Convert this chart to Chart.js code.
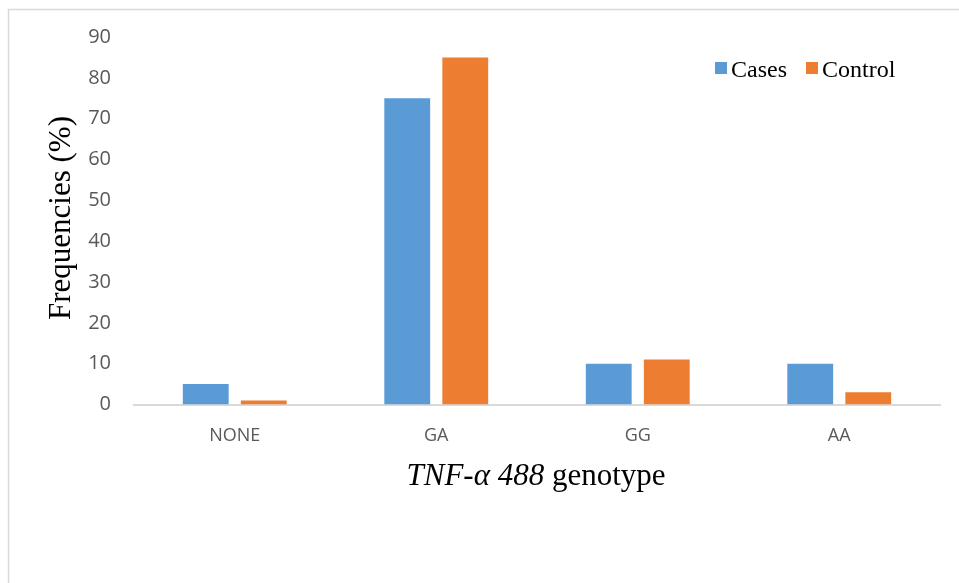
<!DOCTYPE html>
<html>
<head>
<meta charset="utf-8">
<script src="https://cdn.jsdelivr.net/npm/chart.js@4.4.1/dist/chart.umd.min.js"></script>
<style>
  html, body { margin: 0; padding: 0; background: #ffffff; }
  #wrap { width: 959px; height: 583px; position: relative; }
</style>
</head>
<body>
<div id="wrap"><canvas id="chart" width="959" height="583"></canvas></div>
<script>
// Genotype categories and frequencies (%)
const categories = ['NONE', 'GA', 'GG', 'AA'];
const casesValues = [5, 75, 10, 10];
const controlValues = [1, 85, 11, 3];
const seriesNames = ['Cases', 'Control'];
const yMax = 90;
const yStep = 10;

const BLUE = '#5b9bd5';
const ORANGE = '#ed7d31';
const FRAME = '#d9d9d9';
const SERIF = '"Liberation Serif", "Times New Roman", serif';

// Outer frame, axis titles and the in-plot legend
const decorations = {
  id: 'decorations',
  afterDraw(chart) {
    const ctx = chart.ctx;
    ctx.save();

    // frame (top and left edges)
    ctx.strokeStyle = FRAME;
    ctx.lineWidth = 1.5;
    ctx.beginPath();
    ctx.moveTo(8.5, 583);
    ctx.lineTo(8.5, 9.5);
    ctx.lineTo(959, 9.5);
    ctx.stroke();

    // y axis title
    ctx.fillStyle = '#000000';
    ctx.font = '31px ' + SERIF;
    ctx.textAlign = 'center';
    ctx.textBaseline = 'middle';
    ctx.translate(62, 218);
    ctx.rotate(-Math.PI / 2);
    ctx.fillText('Frequencies (%)', 0, 0);
    ctx.setTransform(1, 0, 0, 1, 0, 0);

    // x axis title: italic gene name followed by upright word
    const italicPart = 'TNF-\u03b1 488';
    const plainPart = ' genotype';
    const fItalic = 'italic 31px ' + SERIF;
    const fPlain = '31px ' + SERIF;
    ctx.font = fItalic;
    const w1 = ctx.measureText(italicPart).width;
    ctx.font = fPlain;
    const w2 = ctx.measureText(plainPart).width;
    const x0 = 536 - (w1 + w2) / 2;
    ctx.textAlign = 'left';
    ctx.textBaseline = 'alphabetic';
    ctx.font = fItalic;
    ctx.fillText(italicPart, x0, 485);
    ctx.font = fPlain;
    ctx.fillText(plainPart, x0 + w1, 485);

    // legend
    ctx.font = '24px ' + SERIF;
    ctx.textBaseline = 'alphabetic';
    let lx = 715;
    chart.data.datasets.forEach((ds) => {
      ctx.fillStyle = ds.backgroundColor;
      ctx.fillRect(lx, 62, 12, 12);
      ctx.fillStyle = '#000000';
      ctx.fillText(ds.label, lx + 16, 77);
      lx += 16 + ctx.measureText(ds.label).width + 19;
    });

    ctx.restore();
  }
};

new Chart(document.getElementById('chart'), {
  type: 'bar',
  data: {
    labels: categories,
    datasets: [
      { label: seriesNames[0], data: casesValues, backgroundColor: BLUE },
      { label: seriesNames[1], data: controlValues, backgroundColor: ORANGE }
    ]
  },
  options: {
    responsive: false,
    animation: false,
    devicePixelRatio: 1,
    layout: { padding: { left: 0, right: 19, top: 37, bottom: 0 } },
    datasets: { bar: { categoryPercentage: 0.576, barPercentage: 0.79 } },
    plugins: {
      legend: { display: false },
      tooltip: { enabled: false }
    },
    scales: {
      x: {
        grid: { display: false, drawTicks: false },
        border: { display: true, color: FRAME, width: 2 },
        ticks: {
          color: '#595959',
          font: { family: '"Open Sans", "Noto Sans", sans-serif', size: 18 },
          padding: 21
        },
        afterFit(scale) { scale.height = 583 - 404.5; }
      },
      y: {
        min: 0,
        max: yMax,
        grid: { display: false, drawTicks: false },
        border: { display: false },
        ticks: {
          stepSize: yStep,
          color: '#595959',
          font: { family: '"Open Sans", "Noto Sans", sans-serif', size: 20 },
          padding: 23
        },
        afterFit(scale) { scale.width = 134; }
      }
    }
  },
  plugins: [decorations]
});
</script>
</body>
</html>
